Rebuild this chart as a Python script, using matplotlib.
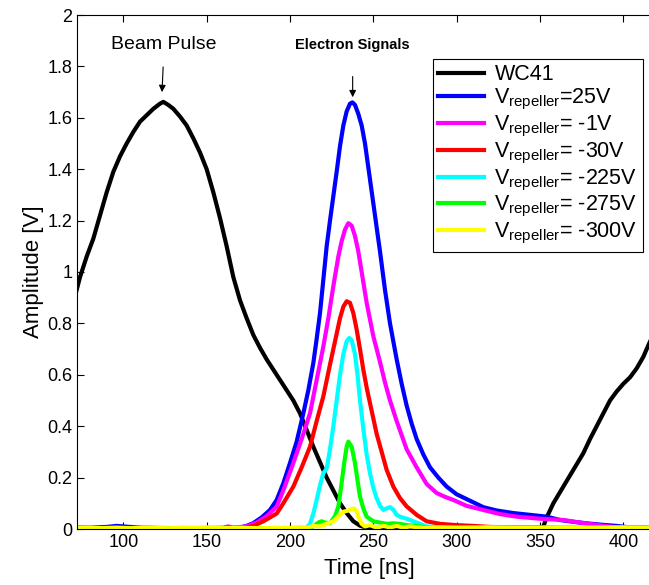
import matplotlib
matplotlib.use("Agg")
import matplotlib.pyplot as plt

plt.rcParams['font.family'] = ['Liberation Sans', 'DejaVu Sans']
plt.rcParams['mathtext.fontset'] = 'custom'
plt.rcParams['mathtext.rm'] = 'Liberation Sans'
plt.rcParams['mathtext.default'] = 'regular'

# WC41 (beam pulse)
t_wc = [72, 74, 78, 82, 86, 90, 94, 98, 102, 106, 110, 114, 118, 122, 124, 127, 130, 134, 138,
        142, 146, 150, 154, 158, 162, 166, 170, 174, 178, 182, 186, 190, 194, 198, 202, 206,
        210, 214, 218, 222, 226, 230, 234, 238, 242, 246, 260, 290, 320, 340, 350, 352, 354,
        358, 364, 370, 376, 380, 384, 388, 392, 396, 400, 404, 408, 412, 415, 419, 423]
v_wc = [0.93, 0.98, 1.06, 1.13, 1.22, 1.31, 1.39, 1.45, 1.50, 1.545, 1.585, 1.61, 1.635, 1.655,
        1.662, 1.65, 1.635, 1.605, 1.57, 1.52, 1.465, 1.40, 1.31, 1.21, 1.10, 0.98, 0.89, 0.82,
        0.755, 0.705, 0.66, 0.62, 0.58, 0.54, 0.50, 0.45, 0.385, 0.32, 0.26, 0.20, 0.15, 0.10,
        0.062, 0.03, 0.013, 0.005, 0.003, 0.004, 0.003, 0.004, 0.005, 0.01, 0.045, 0.10, 0.165,
        0.23, 0.295, 0.35, 0.40, 0.45, 0.50, 0.535, 0.565, 0.59, 0.625, 0.67, 0.715, 0.77, 0.82]

# Vrepeller = 25V
t_25 = [72, 80, 90, 96, 100, 104, 110, 120, 140, 160, 170, 174, 178, 183, 188, 192, 196, 200,
        204, 208, 211, 214, 216, 218, 220, 222, 224, 226, 228, 230, 232, 234, 236, 237.5, 239,
        241, 243, 245, 248, 251, 254, 257, 260, 264, 267, 270, 273, 276, 280, 284, 289, 294,
        300, 308, 316, 324, 334, 344, 354, 362, 370, 378, 388, 396, 404, 423]
v_25 = [0.005, 0.006, 0.008, 0.012, 0.010, 0.008, 0.006, 0.004, 0.003, 0.003, 0.006, 0.012,
        0.023, 0.045, 0.074, 0.113, 0.178, 0.257, 0.34, 0.45, 0.54, 0.646, 0.74, 0.84, 0.97,
        1.10, 1.20, 1.295, 1.39, 1.49, 1.57, 1.625, 1.655, 1.66, 1.65, 1.615, 1.57, 1.50, 1.36,
        1.22, 1.08, 0.93, 0.80, 0.66, 0.565, 0.48, 0.41, 0.35, 0.29, 0.24, 0.20, 0.165, 0.135,
        0.11, 0.085, 0.072, 0.062, 0.055, 0.048, 0.035, 0.028, 0.022, 0.016, 0.012, 0.006, 0.005]

# Vrepeller = -1V
t_m1 = [72, 90, 110, 130, 150, 160, 163, 166, 174, 180, 186, 192, 196, 202, 207, 212, 216, 220,
        223, 226, 229, 231, 233, 235, 237, 239, 241, 243, 246, 250, 254, 257, 260, 264, 270,
        276, 282, 288, 293, 298, 306, 316, 326, 336, 350, 364, 374, 384, 394, 423]
v_m1 = [0.004, 0.005, 0.004, 0.003, 0.004, 0.005, 0.01, 0.005, 0.01, 0.025, 0.05, 0.087, 0.15,
        0.257, 0.35, 0.45, 0.58, 0.71, 0.82, 0.945, 1.06, 1.12, 1.165, 1.19, 1.18, 1.14, 1.08,
        1.00, 0.88, 0.75, 0.65, 0.57, 0.50, 0.42, 0.31, 0.24, 0.175, 0.14, 0.125, 0.113, 0.09,
        0.074, 0.058, 0.048, 0.04, 0.035, 0.025, 0.016, 0.008, 0.004]

# Vrepeller = -30V
t_m30 = [72, 100, 140, 172, 178, 184, 188, 192, 196, 202, 207, 212, 216, 220, 224, 228, 230,
         232, 234, 236, 238, 240, 242, 244, 246, 249, 252, 255, 258, 262, 266, 270, 276, 282,
         290, 300, 310, 320, 340, 423]
v_m30 = [0.003, 0.003, 0.003, 0.003, 0.012, 0.03, 0.045, 0.06, 0.10, 0.165, 0.24, 0.32, 0.42,
         0.516, 0.64, 0.76, 0.82, 0.865, 0.886, 0.88, 0.84, 0.776, 0.70, 0.62, 0.55, 0.46, 0.37,
         0.30, 0.23, 0.165, 0.12, 0.088, 0.055, 0.03, 0.02, 0.015, 0.012, 0.008, 0.005, 0.003]

# Vrepeller = -225V
t_m225 = [72, 120, 180, 208, 210, 212, 214, 216, 218, 220, 222, 224, 226, 228, 230, 232, 234,
          235.5, 237, 239, 240.5, 242, 244, 246, 248, 250, 252, 254, 256, 258, 260, 262, 264,
          266, 270, 274, 278, 282, 290, 423]
v_m225 = [0.003, 0.003, 0.003, 0.003, 0.005, 0.02, 0.06, 0.113, 0.17, 0.217, 0.235, 0.31, 0.40,
          0.50, 0.60, 0.68, 0.73, 0.743, 0.735, 0.68, 0.60, 0.50, 0.39, 0.29, 0.217, 0.16, 0.12,
          0.09, 0.074, 0.08, 0.085, 0.075, 0.055, 0.048, 0.04, 0.03, 0.02, 0.01, 0.006, 0.004]

# Vrepeller = -275V
t_m275 = [72, 130, 190, 210, 214, 217, 219, 221, 224, 227, 229, 231, 232.5, 234, 235, 237, 239,
          240.5, 242, 244, 246, 250, 254, 258, 262, 266, 270, 276, 282, 423]
v_m275 = [0.003, 0.003, 0.003, 0.003, 0.01, 0.025, 0.03, 0.025, 0.022, 0.05, 0.087, 0.18, 0.256,
          0.32, 0.34, 0.32, 0.256, 0.19, 0.126, 0.08, 0.048, 0.03, 0.025, 0.02, 0.022, 0.02,
          0.015, 0.012, 0.006, 0.004]

# Vrepeller = -300V
t_m300 = [72, 80, 88, 96, 104, 112, 120, 128, 136, 144, 152, 160, 168, 176, 184, 192, 200, 206,
          210, 214, 218, 222, 226, 229, 232, 235, 238, 240, 241, 243, 245, 248, 252, 256, 260,
          264, 268, 272, 280, 290, 300, 320, 340, 360, 380, 400, 423]
v_m300 = [0.004, 0.006, 0.003, 0.005, 0.003, 0.006, 0.004, 0.003, 0.006, 0.004, 0.007, 0.003,
          0.005, 0.004, 0.003, 0.005, 0.004, 0.008, 0.004, 0.012, 0.01, 0.02, 0.03, 0.05, 0.067,
          0.072, 0.08, 0.07, 0.048, 0.02, 0.01, 0.015, 0.005, 0.012, 0.006, 0.012, 0.005, 0.01,
          0.004, 0.006, 0.004, 0.006, 0.004, 0.006, 0.005, 0.006, 0.005]

series = [(t_wc, v_wc, 'k', 'WC41'),
          (t_25, v_25, '#0000ff', 'V$_{repeller}$=25V'),
          (t_m1, v_m1, '#ff00ff', 'V$_{repeller}$= -1V'),
          (t_m30, v_m30, '#ff0000', 'V$_{repeller}$= -30V'),
          (t_m225, v_m225, '#00ffff', 'V$_{repeller}$= -225V'),
          (t_m275, v_m275, '#00ff00', 'V$_{repeller}$= -275V'),
          (t_m300, v_m300, '#ffff00', 'V$_{repeller}$= -300V')]

fig = plt.figure(figsize=(6.49, 5.85), dpi=100)
ax = fig.add_axes([77/649, 1 - 529/585, 585/649, 514/585])

for t, v, c, lab in series:
    ax.plot(t, v, color=c, lw=3.0, label=lab, solid_joinstyle='round')

ax.set_xlim(72.2, 423.2)
ax.set_ylim(0, 2)
ax.set_xticks([100, 150, 200, 250, 300, 350, 400])
ax.set_yticks([0, 0.2, 0.4, 0.6, 0.8, 1, 1.2, 1.4, 1.6, 1.8, 2])
ax.set_yticklabels(['0', '0.2', '0.4', '0.6', '0.8', '1', '1.2', '1.4', '1.6', '1.8', '2'])
ax.tick_params(direction='in', top=True, right=True, length=5, labelsize=13, width=0.8)
ax.set_xlabel('Time [ns]', fontsize=16, labelpad=5)
ax.set_ylabel('Amplitude [V]', fontsize=16, labelpad=2)

ax.annotate('Beam Pulse', xy=(123.2, 1.70), xytext=(124.5, 1.885), ha='center', va='center',
            fontsize=14,
            arrowprops=dict(arrowstyle='-|>', color='k', lw=0.8, mutation_scale=10,
                            shrinkA=8, shrinkB=0))
ax.annotate('Electron Signals', xy=(237.6, 1.68), xytext=(237.6, 1.885), ha='center',
            va='center', fontsize=10.5, fontweight='bold',
            arrowprops=dict(arrowstyle='-|>', color='k', lw=0.8, mutation_scale=10,
                            shrinkA=16, shrinkB=0))

leg = ax.legend(loc='upper right', bbox_to_anchor=(643/649, 1 - 59/585),
                bbox_transform=fig.transFigure, fontsize=15.5, frameon=True, fancybox=False,
                edgecolor='k', framealpha=1, borderaxespad=0, handlelength=2.1,
                handletextpad=0.5, labelspacing=0.08, borderpad=0.25)
leg.get_frame().set_linewidth(0.8)

fig.savefig('out.png', dpi=100)
